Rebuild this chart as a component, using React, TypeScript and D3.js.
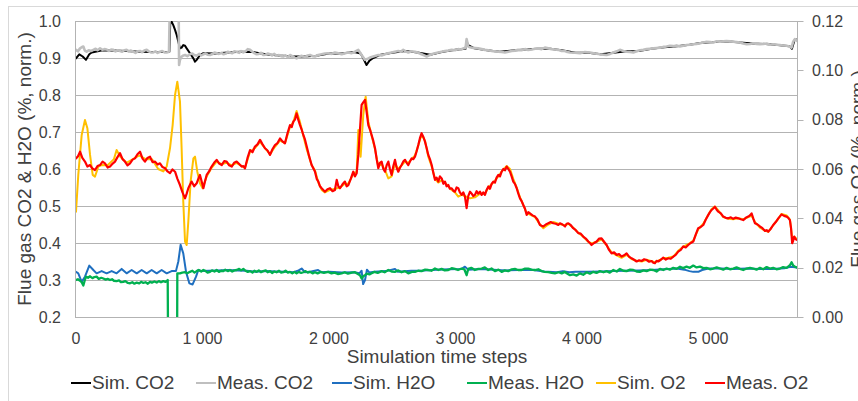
import React from "react";
import * as d3 from "d3";

// Time steps along the x axis, values on the left axis (CO2, H2O) or right axis (O2)
type Pt = [number, number];

const xTickValues = [0, 1000, 2000, 3000, 4000, 5000];
const leftTickValues = [0.2, 0.3, 0.4, 0.5, 0.6, 0.7, 0.8, 0.9, 1.0];
const rightTickValues = [0, 0.02, 0.04, 0.06, 0.08, 0.1, 0.12];

const seriesNames = ["Sim. CO2", "Meas. CO2", "Sim. H2O", "Meas. H2O", "Sim. O2", "Meas. O2"];
const seriesColors = ["#000000", "#bfbfbf", "#1f6fc0", "#00b050", "#ffc000", "#ff0000"];
const seriesWidths = [2, 2.6, 2, 2.3, 2, 2.2];

const simCO2: Pt[] = [
  [0, .899], [26, .910], [53, .904], [79, .895], [105, .910], [124, .915], [200, .920], [300, .920],
  [400, .919], [500, .917], [600, .916], [700, .916], [738, .917], [745, .995], [756, .998], [769, .989],
  [783, .976], [796, .962], [809, .944], [822, .926], [835, .928], [848, .935], [862, .933], [875, .926],
  [901, .913], [928, .899], [941, .890], [954, .895], [980, .908], [1007, .913], [1100, .912], [1200, .915],
  [1300, .917], [1400, .916], [1500, .910], [1600, .907], [1700, .905], [1800, .904], [1900, .906],
  [2000, .912], [2100, .912], [2200, .916], [2250, .912], [2270, .900], [2297, .881], [2320, .893],
  [2350, .900], [2400, .908], [2500, .914], [2600, .919], [2700, .915], [2800, .909], [2900, .917],
  [3000, .922], [3080, .925], [3088, .945], [3100, .935], [3150, .926], [3250, .921], [3350, .917],
  [3450, .920], [3550, .923], [3650, .925], [3750, .925], [3850, .920], [3950, .914], [4050, .914],
  [4150, .910], [4250, .914], [4350, .918], [4450, .919], [4550, .925], [4650, .929], [4750, .932],
  [4850, .936], [4950, .941], [5050, .943], [5150, .945], [5250, .942], [5350, .939], [5450, .938],
  [5550, .935], [5640, .932], [5660, .925], [5680, .948], [5702, .950],
];

const measCO2: Pt[] = [
  [0, .922], [15, .918], [32, .926], [45, .929], [58, .931], [70, .920], [84, .917], [100, .921],
  [118, .919], [137, .922], [155, .925], [170, .921], [190, .926], [210, .922], [225, .924], [242, .923],
  [260, .919], [278, .923], [295, .922], [312, .918], [330, .921], [348, .919], [365, .917], [382, .921],
  [400, .922], [418, .918], [435, .920], [453, .917], [470, .914], [488, .918], [506, .919], [522, .916],
  [540, .920], [559, .922], [575, .918], [592, .915], [611, .915], [628, .918], [645, .914], [664, .917],
  [682, .919], [700, .915], [717, .915], [735, .917], [745, 1.1], [810, 1.1], [815, .881], [822, .895],
  [835, .904], [850, .907], [862, .908], [880, .905], [901, .910], [920, .912], [935, .908], [954, .906],
  [975, .911], [990, .907], [1007, .910], [1025, .912], [1040, .909], [1059, .908], [1080, .911],
  [1095, .915], [1112, .913], [1130, .911], [1150, .914], [1165, .910], [1185, .912], [1200, .917],
  [1217, .915], [1235, .913], [1252, .918], [1270, .917], [1290, .914], [1305, .919], [1323, .915],
  [1340, .918], [1358, .924], [1376, .922], [1395, .917], [1410, .913], [1428, .910], [1445, .911],
  [1462, .914], [1481, .908], [1500, .909], [1515, .912], [1534, .910], [1550, .907], [1568, .911],
  [1586, .906], [1605, .908], [1622, .905], [1639, .904], [1655, .907], [1675, .902], [1692, .908],
  [1710, .905], [1727, .901], [1744, .899], [1760, .902], [1780, .906], [1797, .904], [1815, .903],
  [1832, .907], [1850, .908], [1870, .905], [1889, .904], [1915, .908], [1942, .910], [1968, .912],
  [1994, .913], [2020, .911], [2047, .915], [2074, .913], [2100, .910], [2126, .913], [2153, .915],
  [2180, .913], [2205, .917], [2232, .922], [2258, .908], [2284, .895], [2311, .899], [2330, .902],
  [2350, .904], [2370, .906], [2390, .908], [2416, .907], [2442, .910], [2468, .913], [2495, .915],
  [2520, .917], [2548, .919], [2568, .917], [2587, .922], [2607, .918], [2627, .915], [2653, .918],
  [2680, .917], [2706, .914], [2732, .910], [2752, .907], [2772, .904], [2792, .907], [2811, .910],
  [2838, .913], [2864, .915], [2890, .917], [2917, .919], [2943, .920], [2970, .922], [2996, .921],
  [3022, .924], [3042, .923], [3062, .926], [3080, .927], [3088, .951], [3101, .931], [3115, .929],
  [3128, .928], [3154, .927], [3180, .926], [3207, .924], [3233, .922], [3260, .921], [3286, .919],
  [3312, .918], [3338, .917], [3365, .916], [3391, .915], [3418, .917], [3444, .919], [3470, .920],
  [3496, .922], [3522, .921], [3549, .924], [3575, .922], [3602, .923], [3628, .925], [3655, .926],
  [3681, .924], [3707, .928], [3734, .926], [3760, .924], [3786, .923], [3813, .922], [3840, .919],
  [3865, .919], [3885, .916], [3905, .915], [3945, .914], [3984, .913], [4023, .916], [4063, .915],
  [4103, .912], [4142, .910], [4170, .909], [4195, .908], [4222, .911], [4248, .915], [4275, .918],
  [4300, .922], [4327, .919], [4353, .917], [4380, .916], [4406, .915], [4432, .918], [4458, .921],
  [4485, .922], [4511, .924], [4538, .925], [4564, .926], [4590, .927], [4617, .928], [4643, .930],
  [4669, .931], [4696, .933], [4722, .932], [4748, .934], [4775, .931], [4801, .933], [4827, .935],
  [4853, .936], [4880, .937], [4906, .938], [4933, .940], [4960, .942], [4985, .944], [5012, .943],
  [5038, .942], [5065, .945], [5091, .944], [5117, .945], [5143, .946], [5170, .945], [5196, .944],
  [5222, .943], [5249, .942], [5275, .939], [5302, .937], [5328, .938], [5354, .940], [5380, .938],
  [5407, .937], [5433, .938], [5460, .939], [5486, .936], [5512, .937], [5538, .936], [5565, .935],
  [5590, .934], [5618, .933], [5640, .931], [5657, .928], [5670, .944], [5683, .951], [5702, .946],
];

const simH2O: Pt[] = [
  [0, .322], [18, .318], [45, .295], [71, .309], [105, .339], [137, .327], [163, .318], [203, .324],
  [242, .318], [282, .324], [321, .318], [361, .330], [400, .318], [440, .327], [480, .318], [519, .327],
  [559, .318], [598, .327], [638, .318], [677, .327], [717, .318], [756, .324], [790, .324], [809, .350],
  [827, .395], [848, .372], [870, .322], [896, .291], [922, .288], [949, .309], [967, .327], [993, .324],
  [1050, .325], [1120, .326], [1200, .327], [1280, .326], [1350, .325], [1420, .322], [1500, .324],
  [1580, .323], [1650, .322], [1720, .321], [1760, .326], [1784, .331], [1810, .321], [1860, .323],
  [1914, .327], [1940, .321], [2000, .322], [2100, .320], [2200, .321], [2240, .318], [2258, .325],
  [2270, .289], [2285, .300], [2300, .328], [2320, .320], [2360, .322], [2450, .324], [2522, .330],
  [2545, .322], [2650, .325], [2750, .326], [2850, .328], [2950, .329], [3050, .330], [3075, .336],
  [3100, .328], [3200, .330], [3300, .328], [3400, .326], [3500, .327], [3600, .328], [3700, .323],
  [3800, .321], [3850, .324], [3900, .321], [3950, .322], [4050, .322], [4150, .323], [4250, .324],
  [4350, .325], [4450, .326], [4550, .327], [4650, .329], [4750, .331], [4810, .328], [4850, .324],
  [4880, .322], [4920, .322], [4950, .327], [5000, .331], [5100, .331], [5200, .330], [5300, .331],
  [5400, .330], [5500, .330], [5600, .332], [5650, .336], [5702, .334],
];

const measH2O: Pt[] = [
  [0, .300], [15, .302], [32, .298], [45, .294], [58, .285], [70, .300], [79, .309], [95, .306],
  [111, .310], [130, .305], [145, .308], [163, .309], [180, .303], [200, .306], [216, .304], [235, .301],
  [250, .303], [269, .300], [285, .302], [300, .298], [321, .297], [340, .299], [355, .294], [374, .295],
  [390, .297], [410, .292], [427, .291], [445, .294], [462, .290], [480, .293], [500, .291], [515, .295],
  [532, .292], [550, .294], [568, .290], [585, .295], [600, .293], [620, .296], [638, .293], [655, .297],
  [672, .294], [690, .297], [708, .295], [725, .300], [730, 0.0], [798, 0.0], [801, .318], [822, .318],
  [840, .320], [862, .321], [880, .318], [901, .322], [920, .325], [937, .320], [954, .324], [970, .327],
  [990, .323], [1007, .327], [1025, .324], [1040, .320], [1059, .322], [1075, .326], [1095, .323],
  [1112, .327], [1130, .322], [1148, .325], [1165, .324], [1180, .328], [1200, .324], [1217, .327],
  [1235, .323], [1252, .326], [1270, .327], [1290, .330], [1305, .326], [1323, .330], [1340, .325],
  [1358, .322], [1376, .324], [1395, .320], [1410, .325], [1428, .322], [1445, .326], [1462, .321],
  [1481, .324], [1500, .326], [1515, .321], [1534, .324], [1550, .319], [1568, .323], [1586, .321],
  [1605, .325], [1622, .320], [1639, .321], [1657, .325], [1675, .320], [1692, .322], [1710, .318],
  [1727, .322], [1744, .318], [1762, .322], [1780, .319], [1797, .321], [1815, .324], [1832, .320],
  [1850, .322], [1870, .318], [1889, .321], [1910, .318], [1935, .322], [1960, .319], [1994, .322],
  [2020, .318], [2045, .320], [2070, .316], [2100, .318], [2125, .321], [2150, .317], [2180, .320],
  [2205, .321], [2225, .317], [2245, .313], [2258, .304], [2270, .310], [2284, .313], [2300, .317],
  [2320, .315], [2337, .318], [2360, .322], [2385, .319], [2416, .324], [2440, .321], [2469, .327],
  [2495, .323], [2521, .322], [2548, .326], [2574, .321], [2600, .324], [2627, .318], [2655, .322],
  [2680, .322], [2705, .325], [2732, .324], [2760, .328], [2785, .327], [2810, .325], [2838, .331],
  [2865, .327], [2890, .330], [2915, .326], [2943, .327], [2970, .332], [2996, .330], [3020, .327],
  [3048, .331], [3070, .329], [3088, .313], [3101, .330], [3125, .333], [3154, .327], [3180, .330],
  [3207, .331], [3232, .334], [3259, .327], [3285, .331], [3312, .324], [3340, .328], [3365, .322],
  [3390, .326], [3417, .324], [3445, .329], [3470, .330], [3495, .327], [3523, .327], [3550, .331],
  [3575, .331], [3600, .328], [3628, .327], [3655, .329], [3681, .324], [3705, .322], [3734, .321],
  [3760, .319], [3786, .318], [3815, .321], [3840, .318], [3865, .322], [3879, .318], [3905, .313],
  [3931, .315], [3958, .312], [3984, .318], [4010, .314], [4037, .321], [4063, .317], [4090, .322],
  [4115, .319], [4142, .324], [4170, .321], [4195, .324], [4220, .320], [4248, .327], [4275, .323],
  [4300, .330], [4328, .325], [4353, .324], [4380, .328], [4406, .327], [4432, .323], [4458, .322],
  [4485, .326], [4511, .324], [4538, .328], [4564, .327], [4590, .323], [4617, .330], [4643, .327],
  [4669, .331], [4695, .328], [4722, .333], [4748, .330], [4775, .336], [4800, .332], [4827, .336],
  [4853, .333], [4880, .339], [4906, .334], [4933, .336], [4960, .332], [4985, .333], [5012, .329],
  [5038, .331], [5065, .334], [5091, .331], [5117, .328], [5143, .333], [5170, .329], [5196, .331],
  [5222, .334], [5249, .330], [5275, .327], [5302, .331], [5328, .333], [5354, .331], [5380, .328],
  [5407, .333], [5433, .329], [5460, .335], [5486, .331], [5512, .333], [5538, .329], [5565, .331],
  [5590, .335], [5618, .333], [5644, .340], [5657, .348], [5670, .339], [5685, .336], [5702, .333],
];

const simO2: Pt[] = [
  [0, .0427], [18, .0576], [45, .0738], [71, .0799], [90, .0765], [111, .0657], [132, .0576],
  [150, .0569], [177, .0610], [203, .0616], [250, .0615], [300, .0640], [321, .0677], [350, .0650],
  [400, .0625], [450, .0640], [500, .0655], [550, .0640], [600, .0640], [650, .0600], [690, .0590],
  [717, .0610], [743, .0684], [764, .0778], [783, .0900], [801, .0954], [822, .0873], [835, .0684],
  [848, .0468], [862, .0306], [875, .0292], [888, .0387], [906, .0549], [928, .0643], [941, .0650],
  [959, .0589], [980, .0542], [1001, .0522], [1033, .0570], [1072, .0605], [1112, .0630], [1152, .0620],
  [1191, .0625], [1231, .0615], [1270, .0625], [1310, .0612], [1336, .0605], [1376, .0670], [1415, .0685],
  [1455, .0710], [1494, .0685], [1534, .0660], [1573, .0690], [1613, .0715], [1652, .0705], [1692, .0770],
  [1718, .0790], [1744, .0835], [1771, .0790], [1797, .0735], [1824, .0680], [1863, .0615], [1889, .0595],
  [1916, .0545], [1942, .0515], [1968, .0505], [2008, .0515], [2047, .0520], [2087, .0525], [2126, .0540],
  [2153, .0540], [2192, .0580], [2219, .0589], [2232, .0758], [2250, .0650], [2271, .0819], [2290, .0893],
  [2311, .0792], [2337, .0735], [2364, .0680], [2390, .0610], [2416, .0620], [2443, .0595], [2469, .0562],
  [2495, .0570], [2522, .0620], [2548, .0600], [2574, .0615], [2601, .0630], [2627, .0625], [2653, .0640],
  [2680, .0655], [2706, .0695], [2732, .0740], [2759, .0715], [2785, .0650], [2812, .0610], [2838, .0560],
  [2864, .0545], [2891, .0555], [2917, .0545], [2943, .0530], [2970, .0515], [2996, .0505], [3022, .0488],
  [3049, .0495], [3075, .0490], [3115, .0481], [3154, .0485], [3194, .0500], [3233, .0500], [3260, .0525],
  [3299, .0545], [3339, .0570], [3365, .0590], [3405, .0612], [3431, .0600], [3457, .0560], [3484, .0525],
  [3510, .0485], [3536, .0455], [3563, .0420], [3589, .0415], [3629, .0405], [3668, .0375], [3695, .0360],
  [3734, .0375], [3773, .0385], [3813, .0378], [3866, .0372], [3892, .0378], [3931, .0362], [3971, .0342],
  [4010, .0325], [4050, .0305], [4076, .0298], [4116, .0305], [4155, .0315], [4195, .0290], [4234, .0262],
  [4274, .0250], [4313, .0240], [4353, .0252], [4392, .0235], [4432, .0228], [4472, .0225], [4511, .0232],
  [4551, .0226], [4577, .0222], [4603, .0228], [4643, .0238], [4682, .0240], [4722, .0245], [4761, .0268],
  [4801, .0285], [4840, .0295], [4880, .0310], [4919, .0355], [4959, .0378], [4999, .0415], [5025, .0438],
  [5051, .0448], [5078, .0432], [5117, .0405], [5157, .0398], [5196, .0396], [5236, .0400], [5275, .0396],
  [5315, .0405], [5341, .0410], [5368, .0385], [5407, .0362], [5447, .0350], [5473, .0345], [5512, .0372],
  [5552, .0398], [5578, .0418], [5618, .0412], [5644, .0395], [5662, .0320], [5678, .0325], [5702, .0315],
];

const measO2: Pt[] = [
  [0, .0643], [16, .0652], [32, .0670], [50, .0645], [71, .0630], [90, .0610], [111, .0616], [130, .0602],
  [150, .0596], [170, .0612], [190, .0616], [210, .0630], [229, .0623], [250, .0606], [269, .0610],
  [290, .0622], [308, .0630], [328, .0648], [348, .0664], [368, .0640], [387, .0630], [407, .0615],
  [427, .0623], [447, .0638], [466, .0643], [486, .0660], [506, .0670], [526, .0642], [545, .0630],
  [565, .0645], [585, .0650], [605, .0628], [625, .0630], [645, .0618], [664, .0623], [684, .0608],
  [704, .0603], [724, .0590], [743, .0583], [763, .0598], [783, .0589], [802, .0560], [822, .0535],
  [842, .0505], [862, .0481], [875, .0500], [888, .0522], [900, .0535], [914, .0549], [934, .0530],
  [954, .0542], [967, .0560], [980, .0576], [993, .0550], [1007, .0522], [1020, .0550], [1033, .0576],
  [1052, .0590], [1072, .0610], [1092, .0625], [1112, .0637], [1132, .0622], [1152, .0616], [1172, .0632],
  [1191, .0630], [1211, .0615], [1231, .0610], [1250, .0625], [1270, .0630], [1290, .0620], [1310, .0610],
  [1323, .0612], [1336, .0603], [1356, .0645], [1376, .0677], [1395, .0668], [1415, .0691], [1435, .0700],
  [1455, .0718], [1475, .0700], [1494, .0684], [1514, .0675], [1534, .0657], [1553, .0680], [1573, .0697],
  [1593, .0705], [1613, .0724], [1632, .0712], [1652, .0704], [1672, .0745], [1692, .0778], [1705, .0770],
  [1718, .0792], [1731, .0800], [1744, .0826], [1757, .0800], [1771, .0778], [1784, .0760], [1797, .0738],
  [1810, .0720], [1824, .0691], [1844, .0650], [1863, .0616], [1889, .0590], [1903, .0560], [1916, .0549],
  [1929, .0530], [1942, .0522], [1968, .0508], [1988, .0518], [2008, .0522], [2028, .0510], [2047, .0515],
  [2061, .0556], [2074, .0530], [2087, .0522], [2107, .0538], [2126, .0549], [2140, .0530], [2153, .0535],
  [2172, .0560], [2192, .0589], [2205, .0570], [2219, .0583], [2232, .0657], [2245, .0760], [2258, .0860],
  [2271, .0870], [2285, .0880], [2298, .0830], [2311, .0778], [2324, .0760], [2337, .0738], [2350, .0715],
  [2364, .0684], [2377, .0640], [2390, .0603], [2403, .0625], [2416, .0630], [2430, .0600], [2443, .0589],
  [2456, .0615], [2469, .0630], [2482, .0600], [2495, .0576], [2508, .0610], [2522, .0637], [2535, .0605],
  [2548, .0589], [2561, .0605], [2574, .0616], [2587, .0630], [2601, .0637], [2614, .0625], [2627, .0616],
  [2640, .0630], [2653, .0643], [2667, .0640], [2680, .0650], [2693, .0672], [2706, .0697], [2719, .0725],
  [2732, .0745], [2746, .0730], [2759, .0711], [2772, .0685], [2785, .0657], [2798, .0640], [2812, .0616],
  [2825, .0585], [2838, .0556], [2851, .0565], [2864, .0549], [2877, .0570], [2891, .0562], [2904, .0540],
  [2917, .0549], [2930, .0530], [2943, .0535], [2956, .0520], [2970, .0522], [2983, .0512], [2996, .0508],
  [3009, .0525], [3022, .0522], [3035, .0505], [3049, .0495], [3062, .0505], [3075, .0488], [3088, .0441],
  [3101, .0490], [3115, .0508], [3128, .0500], [3141, .0490], [3154, .0495], [3167, .0510], [3180, .0500],
  [3194, .0508], [3207, .0495], [3220, .0505], [3233, .0495], [3246, .0515], [3260, .0529], [3273, .0520],
  [3286, .0540], [3299, .0549], [3312, .0545], [3325, .0565], [3339, .0576], [3352, .0570], [3365, .0589],
  [3378, .0600], [3391, .0595], [3405, .0610], [3418, .0600], [3431, .0589], [3444, .0570], [3457, .0549],
  [3470, .0540], [3484, .0522], [3497, .0500], [3510, .0481], [3523, .0470], [3536, .0454], [3549, .0440],
  [3563, .0414], [3576, .0425], [3589, .0420], [3609, .0412], [3629, .0407], [3648, .0395], [3668, .0373],
  [3681, .0370], [3695, .0367], [3714, .0375], [3734, .0380], [3753, .0385], [3773, .0380], [3793, .0378],
  [3813, .0373], [3826, .0380], [3846, .0375], [3866, .0367], [3879, .0378], [3892, .0380], [3912, .0372],
  [3931, .0360], [3951, .0352], [3971, .0340], [3990, .0338], [4010, .0326], [4030, .0318], [4050, .0306],
  [4063, .0300], [4076, .0292], [4096, .0300], [4116, .0306], [4136, .0318], [4155, .0319], [4175, .0305],
  [4195, .0292], [4214, .0272], [4234, .0258], [4254, .0262], [4274, .0252], [4293, .0255], [4313, .0245],
  [4333, .0250], [4353, .0258], [4372, .0245], [4392, .0238], [4412, .0232], [4432, .0225], [4452, .0230],
  [4472, .0227], [4492, .0234], [4511, .0231], [4531, .0224], [4551, .0227], [4564, .0220], [4577, .0218],
  [4590, .0228], [4603, .0225], [4623, .0232], [4643, .0241], [4663, .0233], [4682, .0238], [4702, .0236],
  [4722, .0245], [4741, .0252], [4761, .0265], [4781, .0272], [4801, .0286], [4820, .0282], [4840, .0292],
  [4860, .0300], [4880, .0306], [4900, .0335], [4919, .0360], [4939, .0365], [4959, .0373], [4979, .0395],
  [4999, .0414], [5012, .0425], [5025, .0434], [5038, .0440], [5051, .0447], [5065, .0435], [5078, .0427],
  [5098, .0420], [5117, .0407], [5137, .0402], [5157, .0400], [5177, .0404], [5196, .0398], [5216, .0403],
  [5236, .0400], [5256, .0396], [5275, .0393], [5295, .0402], [5315, .0407], [5328, .0412], [5341, .0420],
  [5354, .0400], [5368, .0380], [5388, .0375], [5407, .0367], [5427, .0360], [5447, .0349], [5460, .0352],
  [5473, .0346], [5493, .0358], [5512, .0373], [5532, .0385], [5552, .0400], [5565, .0408], [5578, .0416],
  [5598, .0410], [5618, .0407], [5631, .0402], [5644, .0393], [5653, .0360], [5662, .0299], [5670, .0310],
  [5678, .0326], [5690, .0315], [5702, .0312],
];

const FONT = "'Liberation Sans', Arial, sans-serif";
const TEXT = "#404040";
const GRID = "#b3b3b3";

// plot frame
const PL = 76, PR = 797, PT = 21, PB = 317;

// legend entry positions (line sample start; label follows the sample)
const legendX = [71, 196, 332, 467, 596, 705];

export default function App() {
  const x = d3.scaleLinear().domain([0, 5700]).range([PL, PR]);
  const yL = d3.scaleLinear().domain([0.2, 1.0]).range([PB, PT]);
  const yR = d3.scaleLinear().domain([0, 0.12]).range([PB, PT]);

  const lineL = d3.line<Pt>().x((d) => x(d[0])).y((d) => yL(d[1]));
  const lineR = d3.line<Pt>().x((d) => x(d[0])).y((d) => yR(d[1]));

  const locale = d3.formatLocale({ decimal: ".", thousands: " ", grouping: [3], currency: ["", ""] });
  const fmtX = locale.format(",");
  const fmtL = d3.format(".1f");
  const fmtR = d3.format(".2f");

  const paths = [
    lineL(simCO2),
    lineL(measCO2),
    lineL(simH2O),
    lineL(measH2O),
    lineR(simO2),
    lineR(measO2),
  ];

  const crisp = (v: number) => Math.round(v) + 0.5;

  return (
    <div style={{ position: "absolute", left: 0, top: 0 }}>
      <svg width={858} height={401} style={{ display: "block", background: "#fff" }} fontFamily={FONT}>
        <defs>
          <clipPath id="plot-clip">
            <rect x={PL} y={PT} width={PR - PL} height={PB - PT} />
          </clipPath>
        </defs>

        {/* chart area border */}
        <rect x={8.5} y={6.5} width={900} height={420} fill="none" stroke="#d9d9d9" strokeWidth={1} />

        {/* horizontal gridlines */}
        {leftTickValues.map((v) => (
          <line key={"g" + v} x1={PL} x2={PR} y1={crisp(yL(v))} y2={crisp(yL(v))} stroke={GRID} strokeWidth={1} />
        ))}
        {/* left and right axis lines */}
        <line x1={crisp(PL) - 1} x2={crisp(PL) - 1} y1={PT} y2={PB + 1} stroke={GRID} strokeWidth={1} />
        <line x1={crisp(PR)} x2={crisp(PR)} y1={PT} y2={PB + 1} stroke={GRID} strokeWidth={1} />
        {rightTickValues.map((v) => (
          <line key={"rt" + v} x1={crisp(PR)} x2={crisp(PR) + 6} y1={crisp(yR(v))} y2={crisp(yR(v))} stroke={GRID} strokeWidth={1} />
        ))}

        {/* data series */}
        <g clipPath="url(#plot-clip)" fill="none" strokeLinejoin="round" strokeLinecap="round">
          {paths.map((d, i) => (
            <path key={i} d={d || ""} stroke={seriesColors[i]} strokeWidth={seriesWidths[i]} />
          ))}
        </g>

        {/* left tick labels */}
        {leftTickValues.map((v) => (
          <text key={"lt" + v} x={61} y={yL(v) + 5.5} textAnchor="end" fontSize={16} fill={TEXT}>
            {fmtL(v)}
          </text>
        ))}
        {/* right tick labels */}
        {rightTickValues.map((v) => (
          <text key={"rl" + v} x={812} y={yR(v) + 5.5} textAnchor="start" fontSize={16} fill={TEXT}>
            {fmtR(v)}
          </text>
        ))}
        {/* x tick labels */}
        {xTickValues.map((v) => (
          <text key={"xt" + v} x={x(v)} y={344} textAnchor="middle" fontSize={16} fill={TEXT}>
            {fmtX(v)}
          </text>
        ))}

        {/* axis titles */}
        <text x={437} y={363} textAnchor="middle" fontSize={19} fill={TEXT}>
          Simulation time steps
        </text>
        <text transform={`translate(31,${(PT + PB) / 2}) rotate(-90)`} textAnchor="middle" fontSize={19} fill={TEXT}>
          Flue gas CO2 &amp; H2O (%, norm.)
        </text>
        <text transform={`translate(864,${(PT + PB) / 2}) rotate(-90)`} textAnchor="middle" fontSize={19} fill={TEXT}>
          Flue gas O2 (%, norm.)
        </text>

        {/* legend */}
        {seriesNames.map((name, i) => (
          <g key={"lg" + i}>
            <line x1={legendX[i]} x2={legendX[i] + 20} y1={383} y2={383} stroke={seriesColors[i]} strokeWidth={2} />
            <text x={legendX[i] + 21} y={389} fontSize={19} fill={TEXT}>
              {name}
            </text>
          </g>
        ))}
      </svg>
    </div>
  );
}
